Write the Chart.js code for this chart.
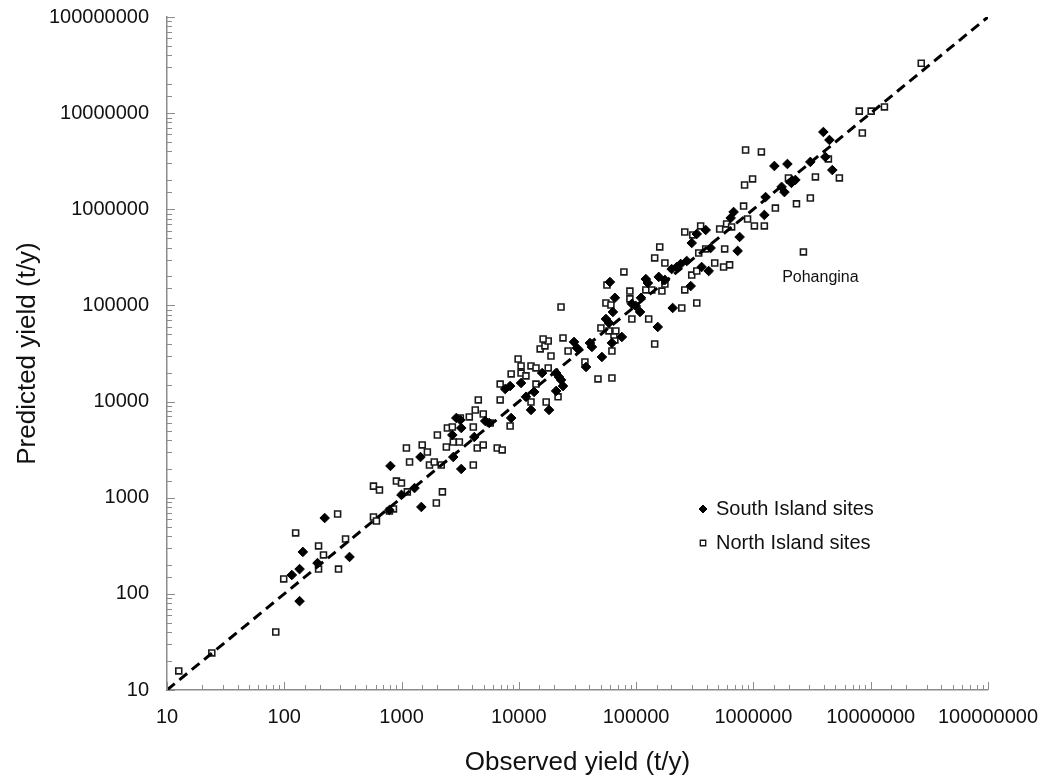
<!DOCTYPE html>
<html>
<head>
<meta charset="utf-8">
<script src="https://cdn.jsdelivr.net/npm/chart.js@4.4.1/dist/chart.umd.min.js"></script>
<style>
  html, body { margin: 0; padding: 0; background: #fff; }
  #wrap { width: 1053px; height: 781px; }
</style>
</head>
<body>
<div id="wrap"><canvas id="chart" width="1053" height="781"></canvas></div>
<script>
// observed vs predicted yield (t/y)
const southObserved = [
  135, 116, 135, 144, 192, 221, 360, 1475, 804, 788, 998, 1290, 1450, 2760, 2710, 3230,
  2930, 3170, 3230, 4170, 5170, 5590, 8600, 7650, 8430, 10450, 11500, 13500, 12700, 18100,
  15800, 20800, 22000, 22900, 23800, 20800, 29550, 31300, 37400, 40400, 42000, 51100, 62200,
  75600, 55300, 58700, 63400, 65900, 59800, 92000, 99500, 108000, 110000, 153000, 121000,
  126000, 156000, 176000, 201000, 222000, 205000, 240000, 270000, 292000, 298000, 329000,
  362000, 392000, 432000, 416000, 640000, 678000, 763000, 734000, 1240000, 1270000, 1740000,
  1840000, 2110000, 2280000, 1510000, 1950000, 3060000, 3950000, 4450000, 4110000, 4710000
];
const southPredicted = [
  84, 157, 181, 273, 209, 615, 242, 801, 2140, 745, 1070, 1260, 2650, 2650, 4490, 1990,
  6750, 6430, 5310, 4280, 6280, 5990, 6750, 13500, 14500, 15600, 11200, 12600, 8180, 8180,
  19800, 19800, 18000, 16800, 14500, 12900, 41700, 36100, 22900, 40700, 37000, 29100, 40700,
  47000, 72300, 65700, 85500, 120000, 175000, 104000, 98700, 85500, 120000, 59700, 188000,
  171000, 198000, 184000, 239000, 251000, 94100, 270000, 290000, 159000, 446000, 554000,
  251000, 609000, 396000, 228000, 812000, 938000, 515000, 369000, 873000, 1340000, 1710000,
  1510000, 1880000, 2020000, 2820000, 2960000, 3110000, 6370000, 5260000, 3500000, 2560000
];

const northObserved = [
  12.6, 24.1, 84.6, 98.9, 125, 196, 216, 196, 290, 285, 333, 576, 611, 788, 853, 1980,
  576, 648, 904, 998, 1120, 2230, 1100, 1500, 1660, 1170, 1730, 1900, 2180, 4090,
  2020, 2760, 3110, 2410, 4420, 4970, 6540, 7210, 2460, 2710, 4090, 3170, 3780, 4970, 4250,
  5700, 8430, 4510, 6930, 12700, 17100, 6930, 14000, 21600, 8600, 10450, 11500, 10450, 12700,
  14000, 17800, 9860, 18800, 26300, 15200, 16700, 17800, 16100, 23800, 22900, 36600, 47300,
  62200, 62200, 144000, 65900, 64700, 67200, 58700, 50100, 92000, 128000, 55300, 61000,
  88500, 88500, 56400, 78700, 121000, 136000, 166000, 176000, 176000, 144000, 159000,
  245000, 329000, 260000, 298000, 329000, 342000, 392000, 468000, 557000, 627000, 569000,
  260000, 304000, 355000, 516000, 591000, 652000, 892000, 825000, 1020000, 1240000, 1540000,
  2330000, 3060000, 841000, 984000, 1990000, 3380000, 858000, 1170000, 4360000, 5410000,
  8490000, 8000000, 10100000, 13100000, 27000000, 2670000
];
const northPredicted = [
  15.8, 24.3, 40.1, 143, 430, 315, 254, 181, 181, 677, 372, 630, 573, 728, 764, 881,
  1320, 1200, 1490, 1420, 1150, 1150, 3290, 3540, 2990, 2350, 2190, 2350, 2190, 2190,
  4490, 3800, 3800, 3370, 3290, 3540, 3290, 3140, 5310, 5440, 5440, 6750, 6920, 7430, 8180,
  5990, 5570, 10400, 10400, 9900, 9900, 15200, 15200, 11200, 19400, 19800, 18500, 23500, 23500,
  22400, 22400, 27700, 29800, 33600, 35300, 37900, 42700, 44800, 45900, 96400, 25800, 17200,
  17600, 33600, 39700, 43700, 49300, 54300, 54300, 58300, 72300, 72300, 106000, 101000,
  117000, 141000, 163000, 223000, 145000, 145000, 141000, 167000, 276000, 312000, 406000,
  94100, 106000, 145000, 207000, 228000, 351000, 387000, 276000, 251000, 264000, 387000,
  581000, 541000, 671000, 624000, 704000, 655000, 793000, 1080000, 671000, 671000, 1030000,
  1140000, 1310000, 1790000, 2070000, 2120000, 2170000, 4140000, 3950000, 3340000, 2120000,
  6220000, 10500000, 10500000, 11600000, 33000000, 360000
];

// 1:1 line
const lineEnds = [10, 100000000];

// named outlier
const noteSite = ['Pohangina'];
const noteObserved = [2670000];
const notePredicted = [360000];

const seriesNames = ['South Island sites', 'North Island sites'];

const FONT = '"Liberation Sans", Arial, sans-serif';
const AXIS_GREY = '#8c8c8c';

const isDecade = (v) => {
  const l = Math.log10(v);
  return Math.abs(l - Math.round(l)) < 1e-9;
};

const toPoints = (xs, ys) => xs.map((x, i) => ({ x, y: ys[i] }));

const southStyle = { pointStyle: 'rectRot', radius: 4.8, backgroundColor: '#000', borderColor: '#000', borderWidth: 1 };
const northStyle = { pointStyle: 'rect', radius: 4.2, backgroundColor: '#fff', borderColor: '#1a1a1a', borderWidth: 1.6 };

/*
 * tick marks point into the plot, decades longer than the minors
 */
const inwardTicks = {
  id: 'inwardTicks',
  afterDraw(chart) {
    const { ctx, scales: { x, y } } = chart;
    ctx.save();
    ctx.strokeStyle = AXIS_GREY;
    ctx.lineWidth = 1;
    x.ticks.forEach(t => {
      const px = Math.round(x.getPixelForValue(t.value)) + 0.5;
      const len = isDecade(t.value) ? 8 : 5;
      ctx.beginPath();
      ctx.moveTo(px, x.top);
      ctx.lineTo(px, x.top - len);
      ctx.stroke();
    });
    y.ticks.forEach(t => {
      const py = Math.round(y.getPixelForValue(t.value)) + 0.5;
      const len = isDecade(t.value) ? 8 : 5;
      ctx.beginPath();
      ctx.moveTo(y.right, py);
      ctx.lineTo(y.right + len, py);
      ctx.stroke();
    });
    ctx.restore();
  }
};

/*
 * legend inside the plot + site note
 */
const notes = {
  id: 'notes',
  afterDraw(chart) {
    const { ctx, chartArea, scales: { x, y } } = chart;
    const lx = chartArea.left + 536;
    const ly = chartArea.top + 492;
    ctx.save();
    ctx.fillStyle = '#000';
    ctx.strokeStyle = '#000';
    ctx.lineWidth = 1;
    Chart.helpers.drawPoint(ctx, { pointStyle: 'rectRot', radius: 4, borderWidth: 1, rotation: 0 }, lx, ly);
    ctx.fillStyle = '#fff';
    ctx.strokeStyle = '#1a1a1a';
    ctx.lineWidth = 1.4;
    Chart.helpers.drawPoint(ctx, { pointStyle: 'rect', radius: 3.8, borderWidth: 1.4, rotation: 0 }, lx, ly + 34);

    ctx.fillStyle = '#111';
    ctx.font = `20px ${FONT}`;
    ctx.textAlign = 'left';
    ctx.textBaseline = 'middle';
    ctx.fillText(seriesNames[0], lx + 13, ly);
    ctx.fillText(seriesNames[1], lx + 13, ly + 34);

    ctx.font = `16px ${FONT}`;
    ctx.textAlign = 'center';
    noteSite.forEach((name, i) => {
      const px = x.getPixelForValue(noteObserved[i]);
      const py = y.getPixelForValue(notePredicted[i]);
      ctx.fillText(name, px + 17, py + 26);
    });
    ctx.restore();
  }
};

const logAxis = (titleText, titlePad) => ({
  type: 'logarithmic',
  min: 10,
  max: 100000000,
  grid: { display: false, drawTicks: false, tickLength: 0 },
  border: { display: true, color: AXIS_GREY, width: 1.5 },
  ticks: {
    autoSkip: false,
    maxRotation: 0,
    color: '#111',
    font: { family: FONT, size: 20 },
    callback: (v) => (isDecade(v) ? String(Math.round(v)) : '')
  },
  title: {
    display: true,
    text: titleText,
    color: '#111',
    font: { family: FONT, size: 26 },
    padding: titlePad
  }
});

const xAxis = logAxis('Observed yield (t/y)', { top: 0, bottom: 3 });
xAxis.ticks.padding = 15;
xAxis.afterFit = (scale) => { scale.height = 91; };

const yAxis = logAxis('Predicted yield (t/y)', { top: 12, bottom: 0 });
yAxis.ticks.padding = 18;
yAxis.afterFit = (scale) => {
  scale.width = 167;
  // let the layout padding alone decide the top of the plot
  scale.paddingTop = 0;
  scale.paddingBottom = 0;
};

new Chart(document.getElementById('chart').getContext('2d'), {
  type: 'scatter',
  data: {
    datasets: [
      {
        type: 'line',
        label: '1:1',
        data: toPoints(lineEnds, lineEnds),
        borderColor: '#000',
        borderWidth: 3,
        borderDash: [10, 6],
        pointRadius: 0,
        fill: false
      },
      {
        label: seriesNames[0],
        data: toPoints(southObserved, southPredicted),
        pointStyle: southStyle.pointStyle,
        pointRadius: southStyle.radius,
        backgroundColor: southStyle.backgroundColor,
        borderColor: southStyle.borderColor,
        borderWidth: southStyle.borderWidth
      },
      {
        label: seriesNames[1],
        data: toPoints(northObserved, northPredicted),
        pointStyle: northStyle.pointStyle,
        pointRadius: northStyle.radius,
        backgroundColor: northStyle.backgroundColor,
        borderColor: northStyle.borderColor,
        borderWidth: northStyle.borderWidth
      }
    ]
  },
  options: {
    responsive: false,
    animation: false,
    layout: { padding: { top: 17, right: 63, left: 0, bottom: 0 } },
    plugins: {
      legend: { display: false },
      tooltip: { enabled: false }
    },
    scales: { x: xAxis, y: yAxis }
  },
  plugins: [inwardTicks, notes]
});
</script>
</body>
</html>
